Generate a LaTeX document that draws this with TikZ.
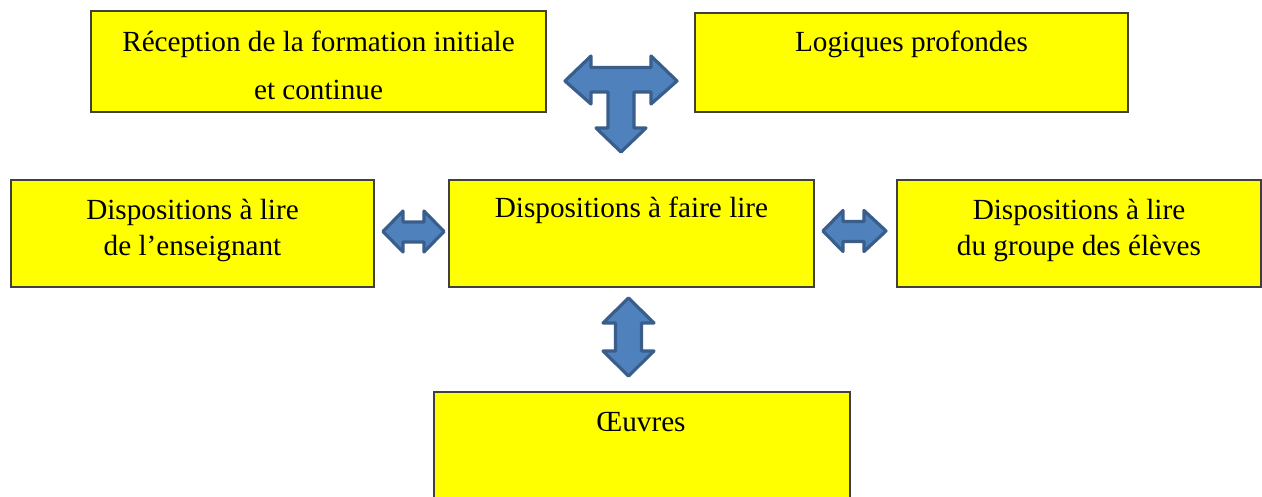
\documentclass[tikz,border=0pt]{standalone}
\usepackage{fontspec}
\setmainfont{Liberation Serif}
\definecolor{boxyellow}{HTML}{FFFF00}
\definecolor{boxline}{HTML}{404040}
\definecolor{arrowfill}{HTML}{4F81BD}
\definecolor{arrowline}{HTML}{3A5E8C}
\begin{document}
\begin{tikzpicture}[x=1pt,y=-1pt,
  box/.style={draw=boxline, fill=boxyellow, line width=1.3pt, rectangle, inner sep=0pt, outer sep=0pt, anchor=north west},
  txt/.style={anchor=base, inner sep=0pt, font=\fontsize{29.2}{34}\selectfont},
  blockarrow/.style={fill=arrowfill, draw=arrowline, line width=3.2pt, line join=round}]
\clip (0,0) rectangle (1262,497);
\fill[white] (0,0) rectangle (1262,497);
% boxes
\node[box, minimum width=455pt, minimum height=101pt] (b1) at (91,11) {};
\node[box, minimum width=433pt, minimum height=99pt] (b2) at (695,13) {};
\node[box, minimum width=363pt, minimum height=107pt] (b3) at (11,180) {};
\node[box, minimum width=365pt, minimum height=107pt] (b4) at (449,180) {};
\node[box, minimum width=364pt, minimum height=107pt] (b5) at (897,180) {};
\node[box, minimum width=416pt, minimum height=120pt] (b6) at (434,392) {};
% texts
\node[txt] (t1a) at (318.5,52) {Réception de la formation initiale};
\node[txt] (t1b) at (318.5,100) {et continue};
\node[txt] (t2) at (911.5,52) {Logiques profondes};
\node[txt] (t3a) at (192.5,219.5) {Dispositions à lire};
\node[txt] (t3b) at (192.5,255.5) {de l’enseignant};
\node[txt] (t4) at (631.5,218) {Dispositions à faire lire};
\node[txt] (t5a) at (1079,219.5) {Dispositions à lire};
\node[txt] (t5b) at (1079,255.5) {du groupe des élèves};
\node[txt] (t6) at (641,431) {Œuvres};
% T-shaped block arrow
\draw[blockarrow] (565,81) -- (591,56) -- (591,67.5) -- (651,67.5) -- (651,56) -- (677,81)
  -- (651,104) -- (651,92) -- (634,92) -- (634,128) -- (646,128) -- (621,152)
  -- (596,128) -- (608,128) -- (608,92) -- (591,92) -- (591,104) -- cycle;
% left double arrow
\draw[blockarrow] (383,231.5) -- (403,211) -- (403,222) -- (424,222) -- (424,211) -- (444,231.5)
  -- (424,252) -- (424,242) -- (403,242) -- (403,252) -- cycle;
% right double arrow
\draw[blockarrow] (823,231) -- (843,210.5) -- (843,221.5) -- (864,221.5) -- (864,210.5) -- (886,231)
  -- (864,251.5) -- (864,241.5) -- (843,241.5) -- (843,251.5) -- cycle;
% vertical double arrow
\draw[blockarrow] (628.5,298) -- (654,323) -- (641.5,323) -- (641.5,351) -- (654,351) -- (628.5,376)
  -- (603,351) -- (615.5,351) -- (615.5,323) -- (603,323) -- cycle;
\end{tikzpicture}
\end{document}
